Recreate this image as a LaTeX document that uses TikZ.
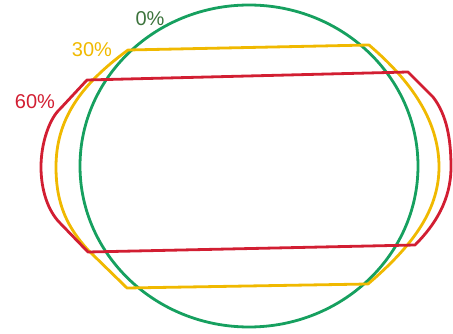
\documentclass[tikz,border=0pt]{standalone}
\usepackage{fontspec}
\setmainfont{Liberation Sans}
\definecolor{ringgreen}{RGB}{22,160,95}
\definecolor{labelgreen}{RGB}{60,115,60}
\definecolor{ringyellow}{RGB}{240,185,0}
\definecolor{ringred}{RGB}{210,30,50}
\tikzset{
  ring/.style={line width=2.8pt,line join=round},
  pct/.style={font=\fontsize{20}{20}\selectfont,inner sep=0pt}
}

\begin{document}
\begin{tikzpicture}[x=1pt,y=-1pt]
  \useasboundingbox (0,0) rectangle (453,334);
  % 0%
  \draw[ring,ringgreen] (249,166) ellipse [x radius=169,y radius=161];
  % 30%
  \draw[ring,ringyellow] (128,50) -- (369,45)
    .. controls (410,80) and (439,120) .. (439,167)
    .. controls (439,212) and (410,248) .. (368,284)
    -- (127,288) -- (88,250)
    .. controls (68,228) and (56,205) .. (56,167)
    .. controls (56,120) and (80,85) .. cycle;
  % 60%
  \draw[ring,ringred] (87,80) -- (408,72) -- (433,97)
    .. controls (447,115) and (451,140) .. (451,167)
    .. controls (451,200) and (435,225) .. (415,245)
    -- (88,252) -- (60,223)
    .. controls (48,211) and (41,190) .. (41,167)
    .. controls (41,142) and (50,118) .. (60,109) -- cycle;
  % labels
  \node[pct,labelgreen] (p0) at (150,19) {0\%};
  \node[pct,ringyellow] (p30) at (92,50) {30\%};
  \node[pct,ringred] (p60) at (35,102) {60\%};
\end{tikzpicture}
\end{document}
